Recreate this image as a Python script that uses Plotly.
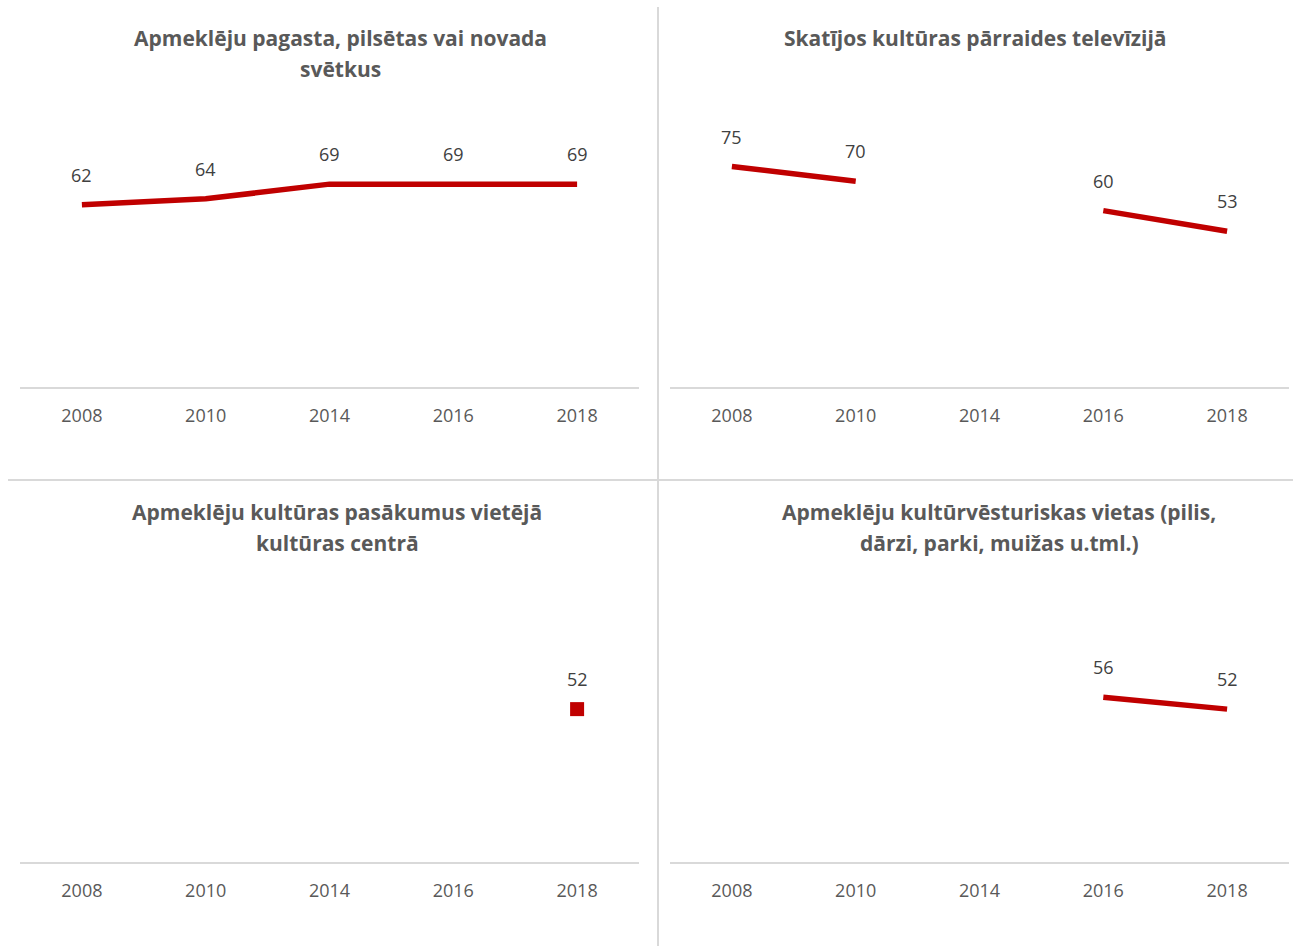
import plotly.graph_objects as go

W, H = 1293, 946

years = ["2008", "2010", "2014", "2016", "2018"]

svetki = [62, 64, 69, 69, 69]
tv_parraides = [75, 70, None, 60, 53]
kulturas_centrs = [None, None, None, None, 52]
vesturiskas_vietas = [None, None, None, 56, 52]

titles = [
    ["Apmeklēju pagasta, pilsētas vai novada", "svētkus"],
    ["Skatījos kultūras pārraides televīzijā"],
    ["Apmeklēju kultūras pasākumus vietējā", "kultūras centrā"],
    ["Apmeklēju kultūrvēsturiskas vietas (pilis,", "dārzi, parki, muižas u.tml.)"],
]

RED = "#C00000"
GRID = "#D9D9D9"
TXT = "#595959"
LBL = "#404040"
FONT = "Open Sans"


def px_x(x):
    return x / W


def px_y(y):
    return 1 - y / H


panels = [
    # (series, x-domain px, y-domain px (top, bottom), title centre x, first title line y)
    (svetki, (20, 639), (93, 387), 340, 38),
    (tv_parraides, (670, 1289), (93, 387), 975, 38),
    (kulturas_centrs, (20, 639), (568, 862), 337, 512),
    (vesturiskas_vietas, (670, 1289), (568, 862), 999, 512),
]

fig = go.Figure()
annotations = []
layout_axes = {}

for i, (vals, (x0, x1), (yt, yb), tx, ty) in enumerate(panels, start=1):
    xa = "x" if i == 1 else f"x{i}"
    ya = "y" if i == 1 else f"y{i}"
    n_pts = sum(v is not None for v in vals)
    if n_pts == 1:
        fig.add_trace(go.Scatter(
            x=years, y=vals, xaxis=xa, yaxis=ya, mode="markers",
            marker=dict(symbol="square", size=14, color=RED),
            hoverinfo="skip", showlegend=False,
        ))
    else:
        fig.add_trace(go.Scatter(
            x=years, y=vals, xaxis=xa, yaxis=ya, mode="lines",
            line=dict(color=RED, width=5.5), connectgaps=False,
            hoverinfo="skip", showlegend=False,
        ))
    # value labels; category axes take the category index as position
    for j, v in enumerate(vals):
        if v is None:
            continue
        annotations.append(dict(
            x=j, y=v, xref=xa, yref=ya, text=str(v), showarrow=False,
            yshift=30, font=dict(family=FONT, size=18, color=LBL),
        ))
    for k, line in enumerate(titles[i - 1]):
        annotations.append(dict(
            x=px_x(tx), y=px_y(ty + 31 * k), xref="paper", yref="paper",
            text=f"<b>{line}</b>", showarrow=False, xanchor="center",
            yanchor="middle", font=dict(family=FONT, size=21, color=TXT),
        ))
    key = "" if i == 1 else str(i)
    layout_axes[f"xaxis{key}"] = dict(
        domain=[px_x(x0), px_x(x1)], anchor=ya, type="category",
        categoryorder="array", categoryarray=years, range=[-0.5, 4.5],
        showgrid=False, zeroline=False, showline=True, linecolor=GRID,
        linewidth=2, ticks="", ticklabelstandoff=11,
        tickfont=dict(family=FONT, size=18, color=TXT), fixedrange=True,
    )
    layout_axes[f"yaxis{key}"] = dict(
        domain=[px_y(yb), px_y(yt)], anchor=xa, range=[0, 100],
        showgrid=False, zeroline=False, showline=False,
        showticklabels=False, fixedrange=True,
    )

shapes = [
    dict(type="line", xref="paper", yref="paper",
         x0=px_x(658), x1=px_x(658), y0=px_y(7), y1=px_y(946),
         line=dict(color=GRID, width=2)),
    dict(type="line", xref="paper", yref="paper",
         x0=px_x(8), x1=px_x(1293), y0=px_y(480), y1=px_y(480),
         line=dict(color=GRID, width=2)),
]

fig.update_layout(
    width=W, height=H, margin=dict(l=0, r=0, t=0, b=0),
    paper_bgcolor="white", plot_bgcolor="white",
    annotations=annotations, shapes=shapes, **layout_axes,
)

fig.write_html("out.html", config={"displayModeBar": False})
